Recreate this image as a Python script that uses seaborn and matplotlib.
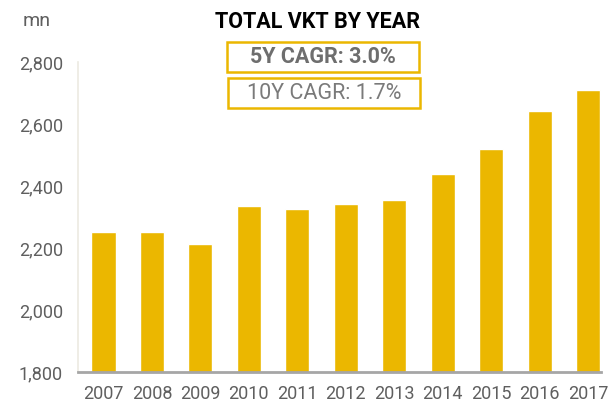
import matplotlib
matplotlib.use("Agg")
import matplotlib.pyplot as plt
import seaborn as sns
import pandas as pd
from matplotlib.ticker import FuncFormatter
from matplotlib.patches import Rectangle

years = ["2007", "2008", "2009", "2010", "2011", "2012", "2013", "2014", "2015", "2016", "2017"]
vkt = [2252, 2252, 2213, 2337, 2326, 2342, 2356, 2440, 2520, 2641, 2710]
yticks = [1800, 2000, 2200, 2400, 2600, 2800]
title = "TOTAL VKT BY YEAR"
unit = "mn"
cagr5 = "5Y CAGR: 3.0%"
cagr10 = "10Y CAGR: 1.7%"

sns.set_theme(style="white")
plt.rcParams["font.family"] = ["Roboto", "DejaVu Sans"]

gold = "#EBB700"
grey = "#5F5F5F"

df = pd.DataFrame({"year": years, "vkt": vkt})
fig = plt.figure(figsize=(6.16, 4.09), dpi=100)
ax = fig.add_axes([0.127, 0.09, 0.849, 0.758])
sns.barplot(data=df, x="year", y="vkt", color=gold, width=0.5, saturation=1, ax=ax)

ax.set_ylim(1800, 2800)
ax.set_xlim(-0.52, 10.27)
ax.set_yticks(yticks)
ax.yaxis.set_major_formatter(FuncFormatter(lambda v, p: f"{int(v):,}"))
ax.set_xlabel("")
ax.set_ylabel("")
ax.tick_params(axis="both", length=0, labelsize=13, labelcolor=grey)
ax.tick_params(axis="y", pad=11)
ax.tick_params(axis="x", pad=9)

for s in ["top", "right"]:
    ax.spines[s].set_visible(False)
ax.spines["left"].set_color("#ECEAE2")
ax.spines["left"].set_linewidth(1.2)
ax.spines["bottom"].set_color("#A6A6A6")
ax.spines["bottom"].set_linewidth(2)

fig.text(0.515, 0.945, title, ha="center", va="center", fontsize=15.5,
         fontweight="bold", color="black")
fig.text(0.059, 0.948, unit, ha="center", va="center", fontsize=14,
         color=grey)

fig.patches.append(Rectangle((0.3685, 0.824), 0.3115, 0.073, transform=fig.transFigure,
                             fill=False, ec=gold, lw=1.8))
fig.patches.append(Rectangle((0.370, 0.736), 0.3115, 0.073, transform=fig.transFigure,
                             fill=False, ec=gold, lw=1.8))
fig.text(0.524, 0.860, cagr5, ha="center", va="center", fontsize=15.5,
         fontweight="bold", color="#6E6E6E")
fig.text(0.526, 0.772, cagr10, ha="center", va="center", fontsize=15.5,
         color="#7A7A7A")

fig.savefig("out.png", dpi=100)
